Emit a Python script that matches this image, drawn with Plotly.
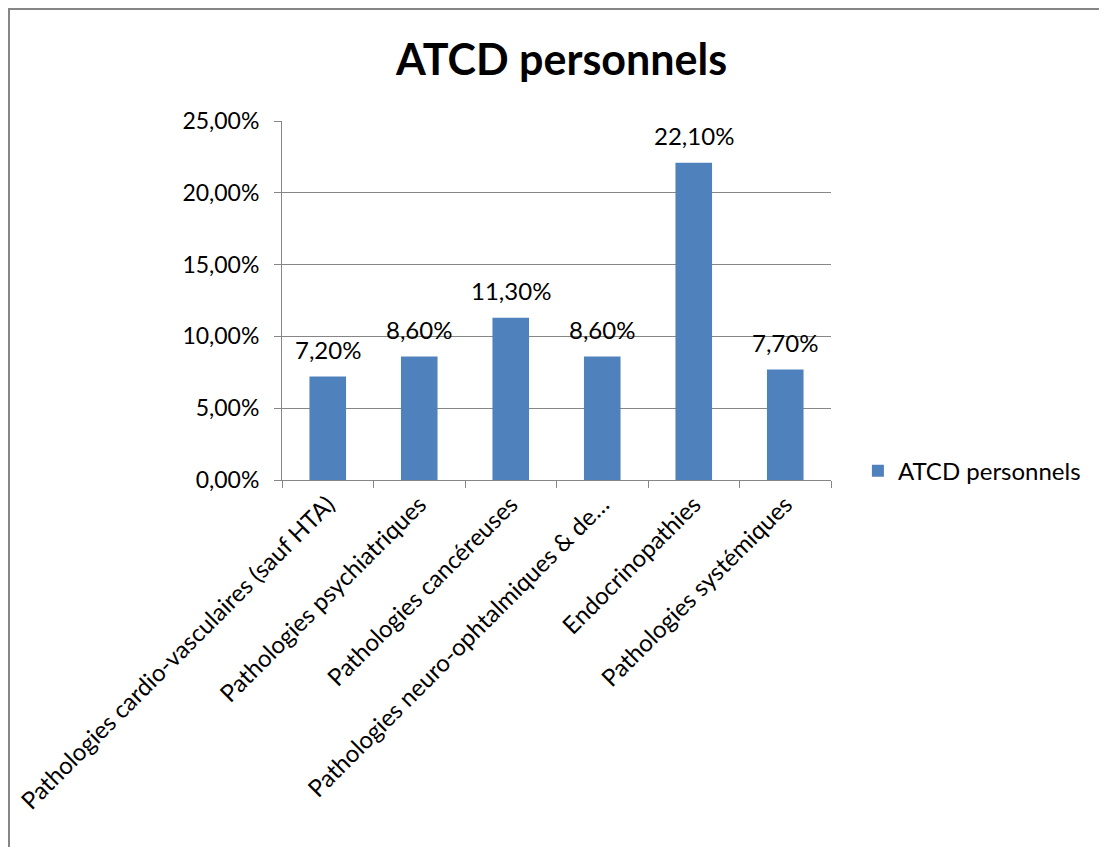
import plotly.graph_objects as go

categories = [
    "Pathologies cardio-vasculaires (sauf HTA)",
    "Pathologies psychiatriques",
    "Pathologies cancéreuses",
    "Pathologies neuro-ophtalmiques & de…",
    "Endocrinopathies",
    "Pathologies systémiques",
]
values = [0.072, 0.086, 0.113, 0.086, 0.221, 0.077]
series_name = "ATCD personnels"
title_text = "ATCD personnels"

FONT = "Lato, Open Sans, sans-serif"
GRAY = "#868686"

W, H = 1107, 847
L, T, R, B = 274, 113, 284, 375
PW = W - L - R
PH = H - T - B

fig = go.Figure()
fig.add_trace(go.Bar(
    x=categories, y=values, name=series_name,
    marker=dict(color="#4F81BD", line=dict(width=0)),
    showlegend=True,
))

annotations = [
    dict(x=c, y=v, xref="x", yref="y", text=f"{v*100:.2f}%".replace(".", ","),
         showarrow=False, yshift=27, yanchor="middle", xanchor="center",
         font=dict(size=24, family=FONT, color="black"))
    for c, v in zip(categories, values)
]

fig.update_layout(
    width=W, height=H,
    margin=dict(l=L, r=R, t=T, b=B),
    paper_bgcolor="white", plot_bgcolor="white",
    separators=", ",
    font=dict(family=FONT, size=23, color="black"),
    title=dict(text="<b>" + title_text + "</b>", x=0.5, xref="container",
               y=1 - 52 / H, yref="container", xanchor="center", yanchor="middle",
               font=dict(size=43, family=FONT, color="black")),
    bargap=0.6,
    showlegend=True,
    legend=dict(x=1.049, xanchor="left", y=0.025, yanchor="middle",
                font=dict(size=24, family=FONT), bgcolor="rgba(0,0,0,0)",
                itemwidth=30),
    xaxis=dict(
        tickangle=-45, showline=True, linecolor=GRAY, linewidth=1,
        ticks="outside", tickson="boundaries", ticklen=7, tickcolor=GRAY,
        tickfont=dict(size=24, family=FONT), showgrid=False, automargin=False,
    ),
    yaxis=dict(
        range=[0, 0.25], dtick=0.05, tickformat=".2%",
        showline=True, linecolor=GRAY, linewidth=1,
        ticks="outside", ticklen=7, tickcolor=GRAY, ticklabelstandoff=10,
        showgrid=True, gridcolor=GRAY, gridwidth=1,
        tickfont=dict(size=23, family=FONT), zeroline=False, automargin=False,
    ),
    annotations=annotations,
    shapes=[dict(type="rect", xref="paper", yref="paper",
                 x0=(1 - L) / PW, x1=(W + 20 - L) / PW,
                 y0=(PH + T - H - 20) / PH, y1=(PH + T - 1) / PH,
                 line=dict(color=GRAY, width=2), fillcolor="rgba(0,0,0,0)",
                 layer="below")],
)

fig.write_html("out.html")
